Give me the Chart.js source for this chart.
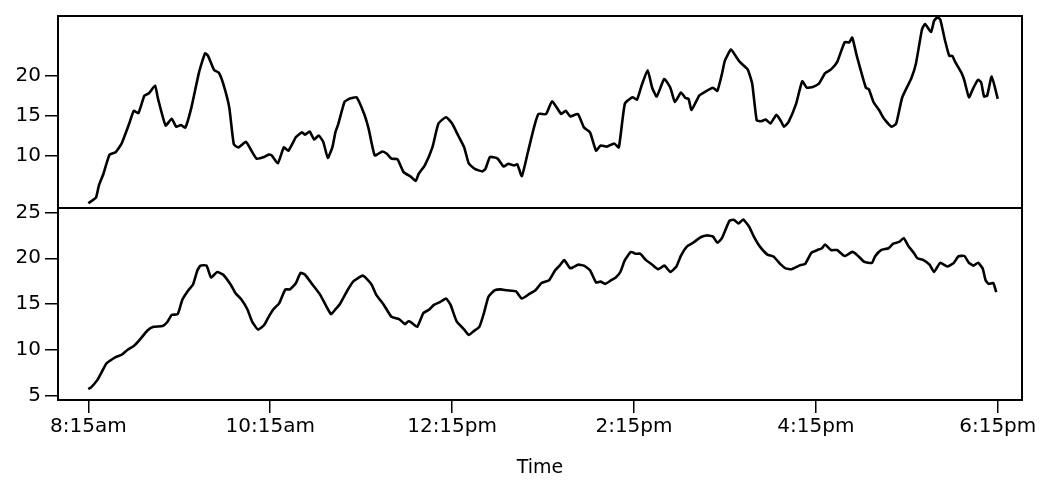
<!DOCTYPE html>
<html>
<head>
<meta charset="utf-8">
<script src="https://cdn.jsdelivr.net/npm/chart.js@4"></script>
<style>
  html, body { margin: 0; padding: 0; background: #fff; }
</style>
</head>
<body>
<canvas id="chart" width="1042" height="484"></canvas>
<script>
// minutes after 8:15am
const xTickValues = [0, 120, 240, 360, 480, 600];
const xTickLabels = ['8:15am', '10:15am', '12:15pm', '2:15pm', '4:15pm', '6:15pm'];
const topTicks = [10, 15, 20];
const bottomTicks = [5, 10, 15, 20, 25];

const topTimes = [0,5,7,10,14,18,22,27,30,33,37,40,44,46,51,55,58,61,64,68,73,77,79,83,86,89,93,96,99,104,107,111,116,119,121,125,129,132,137,141,143,146,149,152,155,158,161,163,165,169,172,174,177,182,185,189,194,197,200,204,208,213,216,218,222,227,231,236,240,244,248,251,255,260,262,265,270,274,277,281,283,286,290,294,297,302,306,312,315,318,323,327,331,335,338,342,347,350,354,359,362,365,369,372,375,380,384,387,391,394,396,398,403,407,412,415,418,420,424,427,430,435,438,441,444,447,450,454,457,459,462,467,471,474,478,482,486,490,494,499,502,504,507,513,515,518,522,525,530,533,537,543,546,550,552,556,558,560,562,565,568,570,572,576,578,581,584,587,589,591,593,596,600];
const topValues = [4.0,4.7,6.25,7.7,10.1,10.4,11.5,14.0,15.6,15.3,17.5,17.8,18.75,17.1,13.75,14.6,13.6,13.8,13.5,16.0,20.4,22.8,22.5,20.7,20.4,19.0,16.0,11.4,11.0,11.7,10.8,9.6,9.8,10.1,10.0,9.0,11.0,10.6,12.3,12.9,12.6,13.0,12.0,12.5,11.7,9.7,11.0,12.9,14.0,16.7,17.1,17.2,17.3,15.2,13.3,10.0,10.5,10.2,9.6,9.5,7.9,7.3,6.8,7.7,8.75,11.0,14.0,14.8,14.0,12.5,11.0,9.0,8.3,8.0,8.3,9.8,9.6,8.6,8.95,8.75,8.9,7.4,10.4,13.5,15.2,15.2,16.8,15.2,15.6,14.9,15.2,13.5,12.9,10.6,11.25,11.1,11.5,11.0,16.5,17.3,17.0,18.75,20.7,18.5,17.4,19.6,18.5,16.7,17.9,17.2,17.1,15.7,17.5,18.0,18.5,18.1,20.2,21.9,23.3,22.5,21.7,20.8,19.0,14.4,14.3,14.5,14.0,15.1,14.3,13.6,14.2,16.5,19.3,18.5,18.6,19.0,20.3,20.8,21.7,24.2,24.2,24.8,22.5,18.5,18.3,16.7,15.6,14.6,13.6,14.0,17.3,19.7,21.5,25.8,26.5,25.5,26.9,27.3,27.1,24.6,22.5,22.5,21.7,20.4,19.4,17.3,18.5,19.5,19.2,17.4,17.5,19.9,17.1];

const bottomTimes = [0,2,6,9,12,18,22,26,30,34,39,43,49,52,55,59,62,66,69,72,74,78,81,85,89,94,97,101,105,108,112,116,119,122,126,130,133,137,140,143,148,153,160,163,166,171,175,181,184,187,190,195,200,205,209,211,213,217,221,225,228,232,236,239,243,248,251,254,258,261,264,268,272,276,282,286,291,295,299,304,308,311,314,318,323,327,331,335,338,341,345,348,351,354,358,361,364,368,372,376,380,384,388,391,395,399,404,408,412,415,418,423,426,429,432,436,439,443,448,452,457,460,464,469,473,477,481,484,486,490,494,499,504,507,512,517,519,523,528,531,535,538,541,545,547,551,555,558,562,567,571,574,578,581,584,587,590,592,594,597,599];
const bottomValues = [5.7,5.9,6.7,7.6,8.5,9.2,9.45,10.0,10.4,11.1,12.1,12.5,12.6,13.0,13.8,13.9,15.45,16.5,17.1,18.7,19.2,19.2,17.9,18.5,18.2,17.1,16.2,15.5,14.4,13.1,12.2,12.7,13.6,14.4,15.1,16.6,16.6,17.3,18.4,18.2,17.1,16.0,13.9,14.4,15.0,16.5,17.5,18.1,17.7,17.1,16.0,14.9,13.6,13.35,12.8,13.1,13.0,12.5,14.0,14.4,14.9,15.2,15.6,14.9,13.1,12.2,11.6,12.0,12.5,14.0,15.8,16.5,16.6,16.5,16.4,15.6,16.1,16.5,17.3,17.6,18.7,19.2,19.8,18.9,19.3,19.2,18.7,17.35,17.45,17.2,17.6,17.9,18.5,19.8,20.7,20.5,20.5,19.8,19.3,18.8,19.2,18.5,19.1,20.3,21.3,21.7,22.3,22.5,22.4,21.7,22.2,24.1,24.2,23.8,24.25,23.45,22.4,21.3,20.4,20.2,19.3,18.9,18.8,19.2,19.4,20.6,20.9,21.1,21.5,20.9,20.9,20.25,20.7,20.4,19.6,19.5,20.2,20.9,21.1,21.6,21.8,22.2,21.35,20.5,20.0,19.8,19.3,18.5,19.5,19.1,19.5,20.2,20.25,19.5,19.2,19.5,18.9,17.6,17.2,17.3,16.3];

const toPoints = (times, values) => times.map((t, i) => ({ x: t, y: values[i] }));

// box around both panels plus the divider between them
const framePlugin = {
    id: 'frame',
    afterDatasetsDraw(chart) {
        const { ctx, chartArea } = chart;
        const lower = chart.scales.yBottom;
        ctx.save();
        ctx.strokeStyle = '#000';
        ctx.lineWidth = 2;
        ctx.strokeRect(chartArea.left, chartArea.top, chartArea.right - chartArea.left, chartArea.bottom - chartArea.top);
        ctx.beginPath();
        ctx.moveTo(chartArea.left, lower.top);
        ctx.lineTo(chartArea.right, lower.top);
        ctx.stroke();
        ctx.restore();
    }
};

const font = { family: 'DejaVu Sans', size: 20 };

const yScale = (ticks, min, max) => ({
    type: 'linear',
    position: 'left',
    stack: 'panels',
    stackWeight: 1,
    offset: false,
    min: min,
    max: max,
    afterBuildTicks: s => { s.ticks = ticks.map(v => ({ value: v })); },
    afterFit: s => { s.width = 58; },
    grid: { drawOnChartArea: false, color: '#000', lineWidth: 1.5, tickLength: 13 },
    border: { display: false },
    ticks: { color: '#000', font: font, padding: 4 }
});

new Chart(document.getElementById('chart'), {
    type: 'line',
    data: {
        datasets: [
            {
                label: 'upper',
                data: toPoints(topTimes, topValues),
                yAxisID: 'yTop',
                borderColor: '#000',
                borderWidth: 2.6,
                pointRadius: 0,
                tension: 0.15
            },
            {
                label: 'lower',
                data: toPoints(bottomTimes, bottomValues),
                yAxisID: 'yBottom',
                borderColor: '#000',
                borderWidth: 2.6,
                pointRadius: 0,
                tension: 0.15
            }
        ]
    },
    options: {
        responsive: false,
        animation: false,
        devicePixelRatio: 1,
        layout: { padding: { top: 15, right: 20, left: 0, bottom: 0 } },
        plugins: { legend: { display: false }, tooltip: { enabled: false } },
        scales: {
            x: {
                type: 'linear',
                min: -20,
                max: 616,
                afterBuildTicks: s => { s.ticks = xTickValues.map(v => ({ value: v })); },
                afterFit: s => { s.height = 84; },
                grid: { drawOnChartArea: false, color: '#000', lineWidth: 1.5, tickLength: 13 },
                border: { display: false },
                ticks: {
                    color: '#000',
                    font: font,
                    padding: 2,
                    maxRotation: 0,
                    callback: (v, i) => xTickLabels[i]
                },
                title: { display: true, text: 'Time', color: '#000', font: { family: 'DejaVu Sans', size: 19 }, padding: { top: 0, bottom: 5 } }
            },
            yBottom: yScale(bottomTicks, 4.5, 25.5),
            yTop: yScale(topTicks, 3.4, 27.5)
        }
    },
    plugins: [framePlugin]
});
</script>
</body>
</html>
